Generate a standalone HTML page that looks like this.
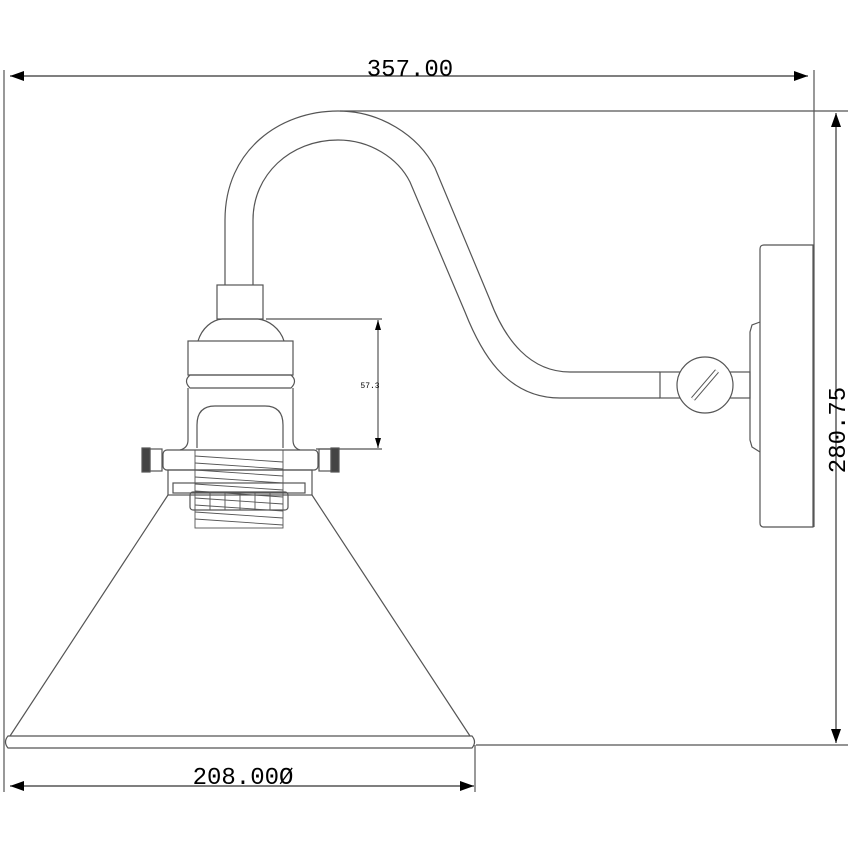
<!DOCTYPE html>
<html><head><style>body{margin:0;background:#fff}svg{display:block}</style></head><body>
<svg width="850" height="850" viewBox="0 0 850 850" xmlns="http://www.w3.org/2000/svg" fill="none" stroke="#555" stroke-width="1.2">
<!-- dimension lines -->
<line x1="4" y1="70" x2="4" y2="792"/>
<line x1="10" y1="76" x2="808" y2="76" stroke="#333"/>
<polygon points="10,76 24,71 24,81" fill="#000" stroke="none"/>
<polygon points="808,76 794,71 794,81" fill="#000" stroke="none"/>
<line x1="814" y1="70" x2="814" y2="527"/>
<text x="410" y="76" font-family="Liberation Mono, monospace" font-size="24" fill="#000" stroke="none" text-anchor="middle">357.00</text>
<line x1="340" y1="111" x2="848" y2="111"/>
<line x1="836" y1="113" x2="836" y2="743" stroke="#333"/>
<polygon points="836,113 831,127 841,127" fill="#000" stroke="none"/>
<polygon points="836,743 831,729 841,729" fill="#000" stroke="none"/>
<line x1="476" y1="745" x2="848" y2="745"/>
<text transform="translate(845,430) rotate(-90)" font-family="Liberation Mono, monospace" font-size="24" fill="#000" stroke="none" text-anchor="middle">280.75</text>
<line x1="10" y1="786" x2="474" y2="786" stroke="#333"/>
<polygon points="10,786 24,781 24,791" fill="#000" stroke="none"/>
<polygon points="474,786 460,781 460,791" fill="#000" stroke="none"/>
<line x1="475" y1="745" x2="475" y2="792"/>
<text x="243" y="784" font-family="Liberation Mono, monospace" font-size="24" fill="#000" stroke="none" text-anchor="middle">208.00Ø</text>
<!-- 57.3 -->
<line x1="266" y1="319" x2="382" y2="319"/>
<line x1="316" y1="449" x2="382" y2="449"/>
<line x1="378" y1="320" x2="378" y2="448"/>
<polygon points="378,320 375,330 381,330" fill="#000" stroke="none"/>
<polygon points="378,448 375,438 381,438" fill="#000" stroke="none"/>
<text x="370" y="388" font-family="Liberation Mono, monospace" font-size="8" fill="#000" stroke="none" text-anchor="middle">57.3</text>
<!-- gooseneck -->
<path d="M225,285 L225,220 C225,150 280,111 338,111 C380,111 418,135 435,168 L490,300 C505,340 530,372 570,372 L660,372"/>
<path d="M253,285 L253,220 C253,175 290,140 338,140 C370,140 398,158 410,182 L465,312 C480,350 505,398 560,398 L660,398"/>
<!-- wall mount -->
<rect x="660" y="372" width="90" height="26"/>
<circle cx="705" cy="385" r="28" fill="#fff"/>
<line x1="693" y1="399" x2="717" y2="371" stroke-width="5" stroke="#555"/>
<line x1="693" y1="399" x2="717" y2="371" stroke-width="3" stroke="#fff"/>
<path d="M760,322 L752,325 L750,332 L750,440 L752,447 L760,452"/>
<path d="M764,245 L813,245 L813,527 L764,527 Q760,527 760,523 L760,249 Q760,245 764,245 Z"/>
<!-- socket -->
<rect x="217" y="285" width="46" height="34"/>
<path d="M198,341 C202,328 212,320 222,319 L258,319 C268,320 280,328 284,341"/>
<rect x="188" y="341" width="105" height="34"/>
<path d="M190,375 L291,375 Q298,381 291,388 L190,388 Q183,381 190,375 Z"/>
<path d="M188,388 L188,440 Q188,448 180,450 M293,388 L293,440 Q293,448 300,450"/>
<path d="M197,448 L197,425 Q197,406 215,406 L265,406 Q283,406 283,425 L283,448"/>
<rect x="163" y="450" width="155" height="20" rx="4"/>
<rect x="150" y="449" width="12" height="22"/>
<rect x="142" y="448" width="8" height="24" fill="#444"/>
<rect x="319" y="449" width="12" height="22"/>
<rect x="331" y="448" width="8" height="24" fill="#444"/>
<rect x="168" y="470" width="144" height="25"/>
<rect x="173" y="483" width="132" height="10"/>
<rect x="190" y="492" width="98" height="18" rx="3"/>
<g stroke-width="0.9">
<rect x="195" y="450" width="88" height="78"/>
<line x1="195" y1="456" x2="283" y2="462"/><line x1="195" y1="463" x2="283" y2="469"/>
<line x1="195" y1="470" x2="283" y2="476"/><line x1="195" y1="477" x2="283" y2="483"/>
<line x1="195" y1="484" x2="283" y2="490"/><line x1="195" y1="491" x2="283" y2="497"/>
<line x1="195" y1="498" x2="283" y2="504"/><line x1="195" y1="505" x2="283" y2="511"/>
<line x1="195" y1="512" x2="283" y2="518"/><line x1="195" y1="519" x2="283" y2="525"/>
<line x1="210" y1="492" x2="210" y2="510"/><line x1="225" y1="492" x2="225" y2="510"/>
<line x1="240" y1="492" x2="240" y2="510"/><line x1="255" y1="492" x2="255" y2="510"/>
<line x1="270" y1="492" x2="270" y2="510"/>
</g>
<!-- shade -->
<path d="M168,495 L10,736 M312,495 L470,736"/>
<path d="M8,736 L472,736 Q477,742 472,748 L8,748 Q3,742 8,736 Z"/>
</svg>
</body></html>
